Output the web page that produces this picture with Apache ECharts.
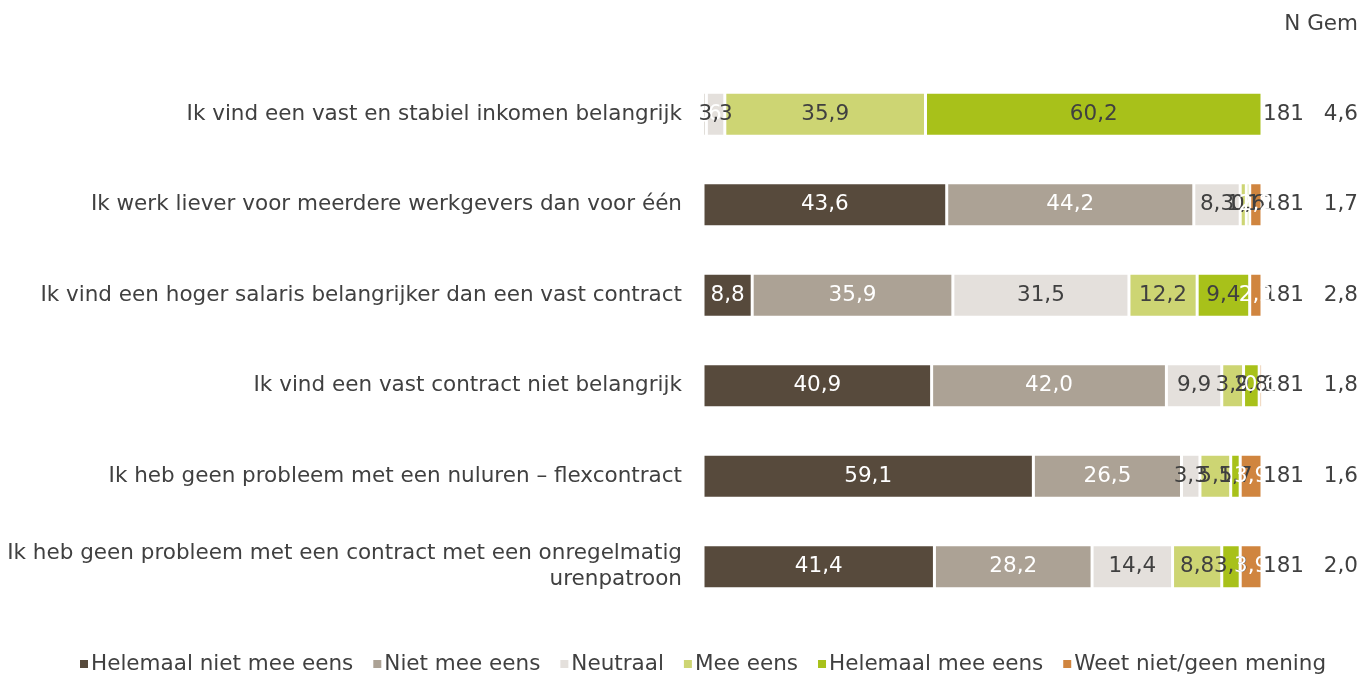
<!DOCTYPE html>
<html lang="nl">
<head>
    <meta charset="UTF-8">
    <title>Stellingen</title>
    <style>
        html, body { margin: 0; padding: 0; background: #fff; }
        #main { width: 1362px; height: 674px; }
    </style>
</head>
<body>
<div id="main"></div>

<script src="https://cdn.jsdelivr.net/npm/echarts@6.0.0/dist/echarts.min.js"></script>
<script>
    var categories = [
        'Ik vind een vast en stabiel inkomen belangrijk',
        'Ik werk liever voor meerdere werkgevers dan voor één',
        'Ik vind een hoger salaris belangrijker dan een vast contract',
        'Ik vind een vast contract niet belangrijk',
        'Ik heb geen probleem met een nuluren – flexcontract',
        'Ik heb geen probleem met een contract met een onregelmatig\nurenpatroon'
    ];
    var nValues = ['181', '181', '181', '181', '181', '181'];
    var gemValues = ['4,6', '1,7', '2,8', '1,8', '1,6', '2,0'];

    var helemaalNiet = [0, 43.6, 8.8, 40.9, 59.1, 41.4];
    var nietMeeEens = [0.6, 44.2, 35.9, 42.0, 26.5, 28.2];
    var neutraal = [3.3, 8.3, 31.5, 9.9, 3.3, 14.4];
    var meeEens = [35.9, 1.1, 12.2, 3.9, 5.5, 8.8];
    var helemaalMee = [60.2, 0.6, 9.4, 2.8, 1.7, 3.3];
    var weetNiet = [0, 2.2, 2.2, 0.6, 3.9, 3.9];

    var seriesDefs = [
        { name: 'Helemaal niet mee eens', data: helemaalNiet, color: '#574a3c', text: '#ffffff' },
        { name: 'Niet mee eens', data: nietMeeEens, color: '#aca295', text: '#ffffff' },
        { name: 'Neutraal', data: neutraal, color: '#e4e0dc', text: '#404040' },
        { name: 'Mee eens', data: meeEens, color: '#cdd573', text: '#404040' },
        { name: 'Helemaal mee eens', data: helemaalMee, color: '#a8c11a', text: '#404040' },
        { name: 'Weet niet/geen mening', data: weetNiet, color: '#d0853f', text: '#ffffff' }
    ];

    var font = 'DejaVu Sans';
    var fs = 21.5;
    var txt = '#404040';

    var myChart = echarts.init(document.getElementById('main'));

    var series = seriesDefs.map(function (s) {
        return {
            name: s.name,
            type: 'bar',
            stack: 'total',
            barWidth: 44,
            data: s.data,
            itemStyle: { color: s.color, borderColor: '#ffffff', borderWidth: 1.5 },
            label: {
                show: true,
                position: 'inside',
                color: s.text,
                fontFamily: font,
                fontSize: fs,
                formatter: function (p) {
                    if (!p.value) return '';
                    return p.value.toFixed(1).replace('.', ',');
                }
            }
        };
    });

    var option = {
        animation: false,
        textStyle: { fontFamily: font },
        title: {
            text: 'N Gem',
            right: 4,
            top: 13,
            padding: 0,
            textStyle: { fontFamily: font, fontSize: fs, fontWeight: 'normal', color: txt }
        },
        legend: {
            bottom: -6,
            left: 73,
            itemWidth: 10,
            itemHeight: 10,
            itemGap: 18,
            icon: 'rect',
            textStyle: { fontFamily: font, fontSize: fs, color: txt, padding: [0, 0, 0, -3] }
        },
        grid: {
            left: 703,
            right: 100,
            top: 69,
            bottom: 62
        },
        xAxis: {
            type: 'value',
            min: 0,
            max: 100,
            show: false
        },
        yAxis: [
            {
                type: 'category',
                inverse: true,
                data: categories,
                axisLine: { show: false },
                axisTick: { show: false },
                axisLabel: {
                    margin: 21,
                    fontFamily: font,
                    fontSize: fs,
                    color: txt,
                    lineHeight: 26,
                    align: 'right'
                }
            },
            {
                type: 'category',
                inverse: true,
                position: 'right',
                data: nValues.map(function (n, i) { return n + '|' + gemValues[i]; }),
                axisLine: { show: false },
                axisTick: { show: false },
                axisLabel: {
                    margin: 1,
                    fontFamily: font,
                    fontSize: fs,
                    color: txt,
                    formatter: function (v) {
                        var parts = v.split('|');
                        return '{n|' + parts[0] + '}{g|' + parts[1] + '}';
                    },
                    rich: {
                        n: { width: 50, align: 'left', fontFamily: font, fontSize: fs, color: txt },
                        g: { width: 45, align: 'right', fontFamily: font, fontSize: fs, color: txt }
                    }
                }
            }
        ],
        series: series
    };

    myChart.setOption(option);
</script>
</body>
</html>
